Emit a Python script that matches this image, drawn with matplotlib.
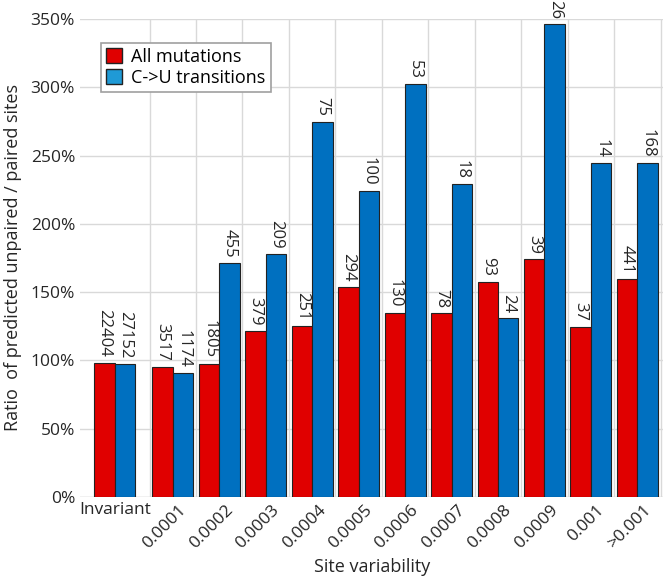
import matplotlib
matplotlib.use("Agg")
import matplotlib.pyplot as plt
from matplotlib.patches import Patch
from matplotlib.transforms import ScaledTranslation
import numpy as np

plt.rcParams.update({"font.family": ["Open Sans", "DejaVu Sans"], "font.size": 11})

categories = ["Invariant", "0.0001", "0.0002", "0.0003", "0.0004", "0.0005",
              "0.0006", "0.0007", "0.0008", "0.0009", "0.001", ">0.001"]
all_mut = [98.3, 95.4, 97.6, 121.5, 125.4, 153.5, 134.5, 134.5, 157.4, 174.2, 124.7, 159.4]
cu_trans = [97.4, 90.5, 171.5, 177.9, 274.7, 224.0, 302.3, 229.1, 130.8, 346.2, 244.3, 244.3]
n_all = ["22404", "3517", "1805", "379", "251", "294", "130", "78", "93", "39", "37", "441"]
n_cu = ["27152", "1174", "455", "209", "75", "100", "53", "18", "24", "26", "14", "168"]

RED = "#e00000"
BLUE = "#0070c0"
BLUE_LEG = "#1f9ad6"
TXT = "#262626"

# invariant sits a bit apart from the variability bins
pos = np.array([-1.25] + list(range(len(categories) - 1)), dtype=float)
w = 0.44

fig = plt.figure(figsize=(6.66, 5.81), dpi=100)
ax = fig.add_axes([0.12, 0.145, 0.876, 0.822])

ax.bar(pos - w / 2, all_mut, w, color=RED, edgecolor="#222222", linewidth=0.8, zorder=3)
ax.bar(pos + w / 2, cu_trans, w, color=BLUE, edgecolor="#222222", linewidth=0.8, zorder=3)

for x, v, s in zip(pos - w / 2, all_mut, n_all):
    ax.annotate(s, (x, v), xytext=(0, 4), textcoords="offset points", rotation=-90,
                ha="center", va="bottom", fontsize=12, color=TXT, annotation_clip=False)
for x, v, s in zip(pos + w / 2, cu_trans, n_cu):
    ax.annotate(s, (x, v), xytext=(0, 4), textcoords="offset points", rotation=-90,
                ha="center", va="bottom", fontsize=12, color=TXT, annotation_clip=False)

ax.set_xlim(-2.0, 10.56)
ax.set_ylim(0, 350)
ax.set_yticks(np.arange(0, 351, 50))
ax.set_yticklabels([f"{t}%" for t in range(0, 351, 50)], fontsize=12.5, color=TXT)
ax.yaxis.grid(True, color="#d9d9d9", linewidth=1, zorder=0)
for gx in np.arange(-0.5, 10.6, 1.0):
    ax.axvline(gx, color="#d9d9d9", linewidth=1, zorder=0)
for sp in ax.spines.values():
    sp.set_visible(False)
ax.axhline(0, color="#d9d9d9", linewidth=1, zorder=1)
ax.tick_params(length=0)

# category labels: "Invariant" flat, the bins at 45 degrees
ax.set_xticks(pos)
ax.set_xticklabels([])
xt = ax.get_xaxis_transform()
ax.text(pos[0], 0, categories[0], transform=xt + ScaledTranslation(0, -4 / 72, fig.dpi_scale_trans),
        ha="center", va="top", fontsize=12.5, color=TXT)
rot_shift = ScaledTranslation(4 / 72, -4 / 72, fig.dpi_scale_trans)
for x, lab in zip(pos[1:], categories[1:]):
    ax.text(x, 0, lab, transform=xt + rot_shift, rotation=45, rotation_mode="anchor",
            ha="right", va="top", fontsize=12.5, color=TXT)

fig.text(0.558, 0.024, "Site variability", ha="center", va="center", fontsize=13, color=TXT)
ax.set_ylabel("Ratio  of predicted unpaired / paired sites", fontsize=13, color=TXT, labelpad=6)

handles = [Patch(facecolor=RED, edgecolor="#222222", label="All mutations"),
           Patch(facecolor=BLUE_LEG, edgecolor="#222222", label="C->U transitions")]
leg = ax.legend(handles=handles, loc="upper left", bbox_to_anchor=(0.02, 0.97), fontsize=13,
                fancybox=False, edgecolor="#a0a0a0", framealpha=1, handlelength=0.9,
                handleheight=0.9, handletextpad=0.5, borderpad=0.3, labelspacing=0.15)
leg.get_frame().set_linewidth(1.2)

fig.savefig("out.png", dpi=100)
